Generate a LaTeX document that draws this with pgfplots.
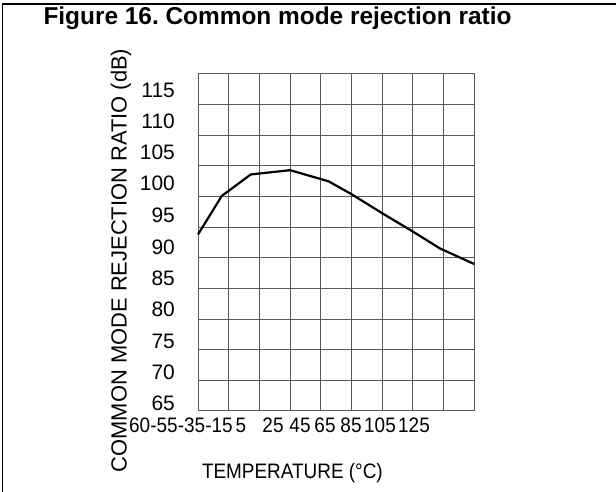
\documentclass[border=0pt]{standalone}
\usepackage{pgfplots}
\pgfplotsset{compat=1.18}
\usepackage{fontspec}
\setmainfont{Liberation Sans}
\newfontfamily\xfont{Liberation Sans}[FakeStretch=0.905]
\frenchspacing
\begin{document}
\begin{tikzpicture}[x=1bp,y=1bp]
\useasboundingbox (0,0) rectangle (616,492);
\draw[line width=1.8bp] (2.5,0) -- (2.5,488);
\draw[line width=1.4bp] (1.6,488) -- (616,488);
\node[anchor=base, font=\fontsize{24.5}{28}\selectfont\bfseries] at (277.5,467) {Figure 16. Common mode rejection ratio};
\begin{axis}[
  at={(198bp,81bp)}, anchor=south west, scale only axis,
  width=276bp, height=337bp,
  xmin=-55, xmax=125, ymin=63, ymax=118,
  xtick={-55,-35,-15,5,25,45,65,85,105,125}, xticklabels={},
  ytick={64.25,69.31,74.42,79.60,84.66,89.72,94.87,100.16,105.16,110.21,115.27},
  yticklabels={65,70,75,80,85,90,95,100,105,110,115},
  minor ytick={63,68,73,78,83,88,93,98,103,108,113,118},
  xmajorgrids=true, yminorgrids=true, ymajorgrids=false,
  major tick length=0pt, minor tick length=0pt,
  grid style={black!65, line width=1bp},
  minor grid style={black!65, line width=1bp},
  axis line style={black!65, line width=1bp},
  yticklabel style={inner sep=0pt, anchor=east, xshift=-23bp, font=\fontsize{21}{25}\selectfont},
  xlabel={TEMPERATURE (°C)},
  ylabel={COMMON MODE REJECTION RATIO (dB)},
  xlabel style={at={(axis description cs:0.342,-0.199)}, anchor=base, inner sep=0pt, font=\xfont\fontsize{21}{25}\selectfont},
  ylabel style={at={(axis description cs:-0.279,0.4466)}, anchor=center, inner sep=0pt, font=\fontsize{22}{26}\selectfont},
  clip=false,
]
\addplot[black, line width=2.2bp, line join=round, mark=none] coordinates {
  (-55,91.8) (-39.5,98.1) (-20.6,101.6) (5,102.3) (30,100.5) (45,98.4)
  (65,95.3) (85,92.3) (103,89.5) (125,87.0)
};
\end{axis}
\foreach \t/\p in {60/129,-55/150.1,-35/177.6,-15/205.1}
  \node[anchor=base west, inner sep=0pt, font=\xfont\fontsize{21}{25}\selectfont] at (\p,59) {\t};
\foreach \t/\p in {5/241,25/273,45/300,65/325,85/351,105/380,125/414}
  \node[anchor=base, inner sep=0pt, font=\xfont\fontsize{21}{25}\selectfont] at (\p,59) {\t};
\end{tikzpicture}
\end{document}
